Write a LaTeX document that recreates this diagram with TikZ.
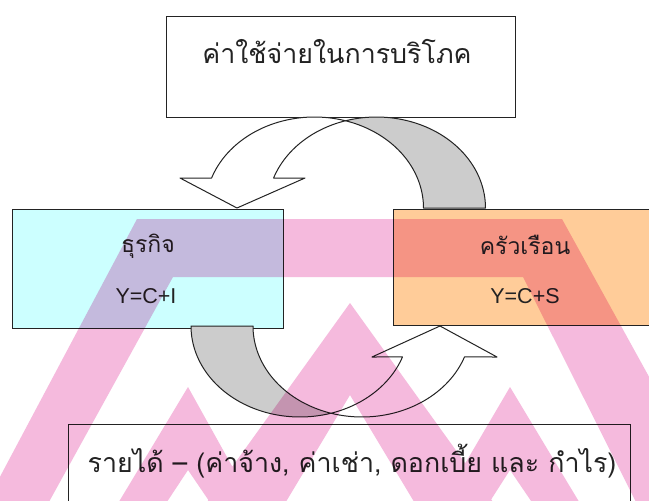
\documentclass[tikz,border=0pt]{standalone}
\usepackage{fontspec}
\setmainfont{Liberation Sans}
\newfontfamily\thaifont[Script=Thai]{Loma}
\definecolor{bizcyan}{RGB}{204,255,255}
\definecolor{homeorange}{RGB}{255,204,153}
\definecolor{wmpink}{RGB}{245,186,221}
\definecolor{ink}{RGB}{35,35,35}
\begin{document}
\begin{tikzpicture}[x=1pt,y=-1pt,
  flowbox/.style={draw=ink, line width=1.1pt, rectangle, inner sep=0pt, anchor=north west},
  ribbon/.style={draw=ink, line width=1pt, line join=round},
  ribbonfront/.style={ribbon, fill=white},
  ribbonback/.style={ribbon, fill=black!20},
  thaitext/.style={font=\thaifont\fontsize{26.8}{32}\selectfont, text=ink, inner sep=0pt},
  boxthai/.style={font=\thaifont\fontsize{23}{27}\selectfont, text=ink, inner sep=0pt},
  formula/.style={font=\fontsize{21.5}{26}\selectfont, text=ink, inner sep=0pt},
  watermark/.style={fill=wmpink, blend mode=multiply}
]
\useasboundingbox (0,0) rectangle (649,501);
\fill[white] (0,0) rectangle (649,501);

% boxes
\node[flowbox, minimum width=349pt, minimum height=101pt] (spend) at (166,16) {};
\node[flowbox, fill=bizcyan, minimum width=271pt, minimum height=119pt] (biz) at (12,209) {};
\node[flowbox, fill=homeorange, minimum width=280pt, minimum height=116pt] (home) at (393,209) {};
\node[flowbox, minimum width=562pt, minimum height=110pt] (income) at (68,424) {};

% upper curved arrow (consumption spending -> business)
\filldraw[ribbonback]
  plot[domain=286.5:360, samples=40, variable=\t] ({314.5+109*cos(\t)},{208+91*sin(\t)})
  -- plot[domain=360:253.5, samples=50, variable=\t] ({376.5+109*cos(\t)},{208+91*sin(\t)})
  -- cycle;
\filldraw[ribbonfront]
  plot[domain=286.5:199.25, samples=40, variable=\t] ({314.5+109*cos(\t)},{208+91*sin(\t)})
  -- (180,178) -- (237,208) -- (305,178)
  -- plot[domain=199.25:253.5, samples=30, variable=\t] ({376.5+109*cos(\t)},{208+91*sin(\t)})
  -- cycle;

% lower curved arrow (business -> household)
\filldraw[ribbonback]
  plot[domain=180:73.5, samples=50, variable=\t] ({300+109*cos(\t)},{326+91*sin(\t)})
  -- plot[domain=106.5:180, samples=40, variable=\t] ({362+109*cos(\t)},{326+91*sin(\t)})
  -- cycle;
\filldraw[ribbonfront]
  plot[domain=106.5:19.9, samples=40, variable=\t] ({362+109*cos(\t)},{326+91*sin(\t)})
  -- (497,357) -- (440,326) -- (372,357)
  -- plot[domain=19.9:73.5, samples=30, variable=\t] ({300+109*cos(\t)},{326+91*sin(\t)})
  -- cycle;

% texts
\node[thaitext] (spendtxt) at (337,52) {ค่าใช้จ่ายในการบริโภค};
\node[boxthai] (biztxt) at (148,246) {ธุรกิจ};
\node[formula] (bizeq) at (146,296) {Y=C+I};
\node[boxthai] (hometxt) at (525,245) {ครัวเรือน};
\node[formula] (homeeq) at (525,296) {Y=C+S};
\node[thaitext] (incometxt) at (352,461) {รายได้ – (ค่าจ้าง, ค่าเช่า, ดอกเบี้ย และ กำไร)};

% watermark
\fill[watermark]
  (-23,520) -- (137,219) -- (562,219) -- (728,520) -- (645,520) -- (523,277) -- (173,277) -- (39,520) -- cycle
  (194,520) -- (350,303) -- (506,520) -- (425,520) -- (350,395) -- (275,520) -- cycle
  (108,520) -- (188,387) -- (262,520) -- (222,520) -- (188,470) -- (155,520) -- cycle
  (432,520) -- (510,387) -- (590,520) -- (544,520) -- (510,470) -- (478,520) -- cycle;
\end{tikzpicture}
\end{document}
